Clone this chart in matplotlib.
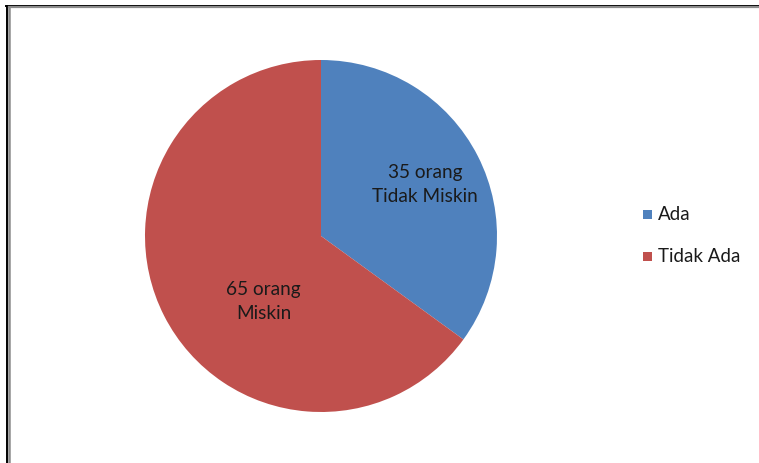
import matplotlib.pyplot as plt
from matplotlib.lines import Line2D
from matplotlib.patches import Rectangle

# -------------------------------
# Data
# -------------------------------
categories = ["Ada", "Tidak Ada"]
values = [35, 65]
slice_labels = ["35 orang\nTidak Miskin", "65 orang\nMiskin"]
colors = ["#4F81BD", "#C0504D"]

W, H = 759, 463
plt.rcParams["font.family"] = ["Lato", "DejaVu Sans"]

fig = plt.figure(figsize=(W / 100, H / 100), dpi=100)
fig.patch.set_facecolor("white")

# pie axes: center (321, 236) px, radius 176 px
cx, cy, r = 321, 236, 176
ax = fig.add_axes([(cx - r) / W, (H - cy - r) / H, 2 * r / W, 2 * r / H])
ax.pie(values, colors=colors, startangle=90, counterclock=False,
       radius=1, wedgeprops=dict(linewidth=0))
ax.set_xlim(-1, 1)
ax.set_ylim(-1, 1)
ax.set_aspect("equal")
ax.axis("off")

# slice labels (placement as in the original)
label_pos = [(0.59, 0.29), (-0.327, -0.37)]
for txt, (x, y) in zip(slice_labels, label_pos):
    ax.text(x, y, txt, ha="center", va="center", fontsize=13.7,
            color="#1a1a1a", linespacing=1.5)

# legend
leg_y = [215, 256]
for cat, col, y in zip(categories, colors, leg_y):
    fig.patches.append(Rectangle((643 / W, (H - y - 4.5) / H), 9 / W, 9 / H,
                                 transform=fig.transFigure, facecolor=col,
                                 edgecolor="none"))
    fig.text(658 / W, (H - y) / H, cat, ha="left", va="center",
             fontsize=13.5, color="#1a1a1a")

# frame (top and left edges only visible)
def px_line(x0, y0, x1, y1, color, lw):
    fig.add_artist(Line2D([x0 / W, x1 / W], [(H - y0) / H, (H - y1) / H],
                          transform=fig.transFigure, color=color, linewidth=lw))

px_line(5.5, 5.5, W, 5.5, "black", 1.4)
px_line(6.5, 5.5, 6.5, H, "black", 1.4)
px_line(9, 7.3, W, 7.3, "#8c8c8c", 1.6)
px_line(9, 7.3, 9, H, "#8c8c8c", 1.8)

fig.savefig("out.png", dpi=100, facecolor="white")
